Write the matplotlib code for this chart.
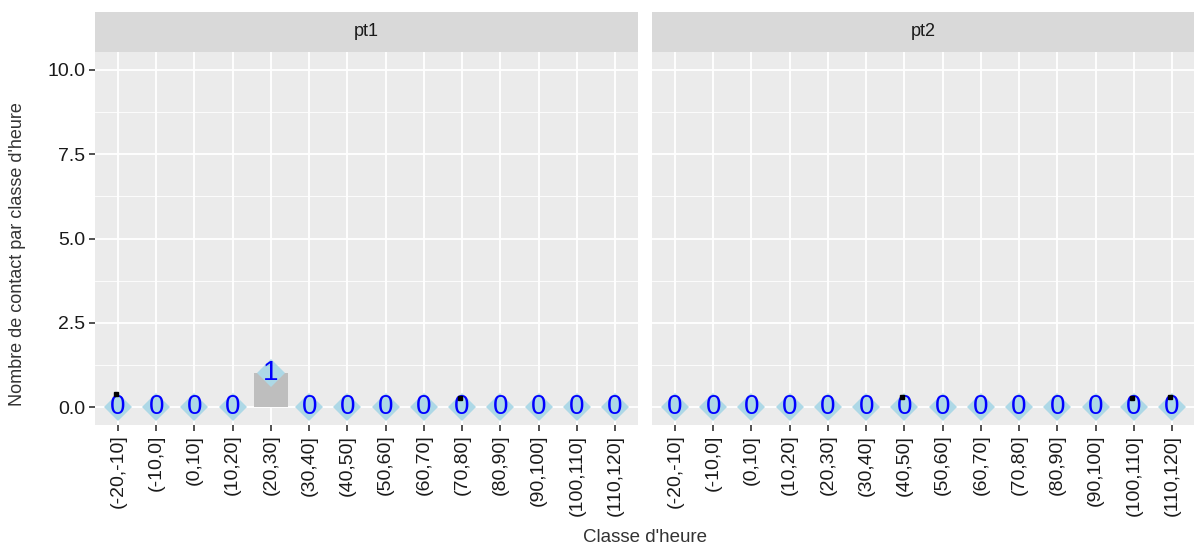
import numpy as np
import matplotlib.pyplot as plt

plt.rcParams['font.family'] = ['Liberation Sans', 'DejaVu Sans']

classes = ["(-20,-10]", "(-10,0]", "(0,10]", "(10,20]", "(20,30]", "(30,40]",
           "(40,50]", "(50,60]", "(60,70]", "(70,80]", "(80,90]", "(90,100]",
           "(100,110]", "(110,120]"]
panels = ["pt1", "pt2"]

pt1_counts = [0, 0, 0, 0, 1, 0, 0, 0, 0, 0, 0, 0, 0, 0]
pt2_counts = [0, 0, 0, 0, 0, 0, 0, 0, 0, 0, 0, 0, 0, 0]

# small black dots seen near some points (class, y)
pt1_dots = [("(-20,-10]", 0.39), ("(70,80]", 0.28)]
pt2_dots = [("(40,50]", 0.3), ("(100,110]", 0.28), ("(110,120]", 0.3)]

data = {
    "pt1": (pt1_counts, pt1_dots),
    "pt2": (pt2_counts, pt2_dots),
}

W, H = 1194, 549
fig = plt.figure(figsize=(W / 100, H / 100), dpi=100)

bottom = 1 - 425 / H
top = 1 - 52 / H
strip_h = 40 / H
lefts = [95 / W, 652 / W]
width = 543 / W

for i, name in enumerate(panels):
    counts, dots = data[name]
    ax = fig.add_axes([lefts[i], bottom, width, top - bottom])
    ax.set_facecolor("#EBEBEB")
    for s in ax.spines.values():
        s.set_visible(False)
    x = np.arange(1, len(classes) + 1)
    n = len(classes)
    ax.set_xlim(0.4, n + 0.6)
    ax.set_ylim(-0.53, 10.53)

    # grid
    for yv in [1.25, 3.75, 6.25, 8.75]:
        ax.axhline(yv, color="white", lw=0.6, zorder=0)
    for yv in [0, 2.5, 5, 7.5, 10]:
        ax.axhline(yv, color="white", lw=1.3, zorder=0)
    for xv in x:
        ax.axvline(xv, color="white", lw=1.3, zorder=0)

    ax.bar(x, counts, width=0.9, color="#BEBEBE", zorder=1)
    ax.plot(x, counts, ls="none", marker="D", ms=14, color="#ADD8E6",
            markeredgewidth=0, zorder=2)
    for xi, c in zip(x, counts):
        ax.text(xi, c, str(c), color="#0000FF", fontsize=20,
                ha="center", va="center", zorder=3)
    for cname, yv in dots:
        xi = classes.index(cname) + 1
        ax.plot(xi - 0.05, yv, marker="s", ms=2.5, color="black", zorder=4)

    ax.set_xticks(x)
    ax.set_xticklabels(classes, rotation=90, fontsize=14, color="#1A1A1A")
    ax.tick_params(axis="x", length=4, width=1.2, color="#333333", pad=3)
    ax.set_yticks([0, 2.5, 5, 7.5, 10])
    if i == 0:
        ax.set_yticklabels(["0.0", "2.5", "5.0", "7.5", "10.0"],
                           fontsize=14, color="#1A1A1A")
        ax.tick_params(axis="y", length=4, width=1.2, color="#333333", pad=3)
    else:
        ax.tick_params(axis="y", length=0, labelleft=False)

    sax = fig.add_axes([lefts[i], top, width, strip_h])
    sax.set_facecolor("#D9D9D9")
    sax.set_xticks([])
    sax.set_yticks([])
    for s in sax.spines.values():
        s.set_visible(False)
    sax.text(0.5, 0.5, name, ha="center", va="center", fontsize=13,
             color="#1A1A1A", transform=sax.transAxes)

fig.text((95 + 1195) / 2 / W, 1 - 537 / H, "Classe d'heure", ha="center",
         va="center", fontsize=13.5, color="#333333")
fig.text(18 / W, 1 - 254 / H, "Nombre de contact par classe d'heure",
         rotation=90, ha="center", va="center", fontsize=13, color="#333333")

fig.savefig("out.png", dpi=100, facecolor="white")
